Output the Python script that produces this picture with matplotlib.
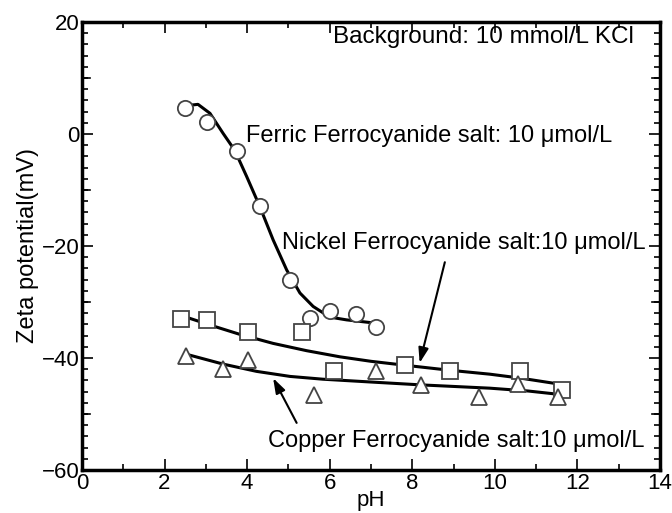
import matplotlib.pyplot as plt
from matplotlib.ticker import MultipleLocator

plt.rcParams['font.family'] = ['Liberation Sans', 'DejaVu Sans']

# measured points
ferric_ph = [2.49, 3.02, 3.75, 4.31, 5.04, 5.52, 6.02, 6.63, 7.12]
ferric_zeta = [4.6, 2.2, -3.0, -12.9, -26.1, -32.9, -31.6, -32.1, -34.4]

nickel_ph = [2.41, 3.02, 4.01, 5.32, 6.10, 7.82, 8.91, 10.62, 11.64]
nickel_zeta = [-33.0, -33.3, -35.4, -35.4, -42.3, -41.3, -42.4, -42.3, -45.8]

copper_ph = [2.52, 3.42, 4.01, 5.62, 7.12, 8.22, 9.62, 10.57, 11.53]
copper_zeta = [-39.6, -42.0, -40.4, -46.6, -42.3, -44.8, -46.9, -44.6, -47.0]

# fitted curves
ferric_fit_ph = [2.69, 2.81, 3.10, 3.42, 3.70, 3.99, 4.31, 4.63, 4.96, 5.28, 5.60, 6.00, 6.41, 7.01]
ferric_fit_zeta = [5.2, 5.3, 3.7, 0.1, -2.9, -7.6, -13.0, -18.9, -24.3, -28.4, -30.8, -32.7, -33.2, -33.7]

nickel_fit_ph = [2.60, 3.18, 3.83, 4.63, 5.44, 6.25, 7.00, 7.82, 8.91, 9.88, 10.62, 11.50, 11.75]
nickel_fit_zeta = [-32.9, -34.3, -35.8, -37.4, -38.7, -39.8, -40.6, -41.3, -42.2, -42.9, -43.6, -44.6, -45.0]

copper_fit_ph = [2.61, 3.42, 4.23, 5.04, 5.84, 7.00, 8.18, 9.88, 10.80, 11.55]
copper_fit_zeta = [-39.5, -41.1, -42.4, -43.3, -43.8, -44.3, -44.8, -45.4, -45.9, -46.5]

fig = plt.figure(figsize=(6.72, 5.13), dpi=100)
ax = fig.add_axes([0.122, 0.084, 0.860, 0.873])

ax.plot(ferric_fit_ph, ferric_fit_zeta, color='k', lw=2.2, zorder=2)
ax.plot(nickel_fit_ph, nickel_fit_zeta, color='k', lw=2.2, zorder=2)
ax.plot(copper_fit_ph, copper_fit_zeta, color='k', lw=2.2, zorder=2)

mk = dict(ls='none', mfc='white', mec='#444444', mew=1.3, zorder=3)
ax.plot(ferric_ph, ferric_zeta, marker='o', ms=11, **mk)
ax.plot(nickel_ph, nickel_zeta, marker='s', ms=11, **mk)
ax.plot(copper_ph, copper_zeta, marker='^', ms=11, **mk)

ax.set_xlim(0, 14)
ax.set_ylim(-60, 20)
ax.xaxis.set_major_locator(MultipleLocator(2))
ax.xaxis.set_minor_locator(MultipleLocator(1))
ax.yaxis.set_major_locator(MultipleLocator(20))
ax.yaxis.set_minor_locator(MultipleLocator(2))
ax.tick_params(which='both', direction='in', top=True, right=True, labelsize=16, width=1.2)
ax.tick_params(which='major', length=8, pad=2)
ax.tick_params(which='minor', length=4)
for s in ax.spines.values():
    s.set_linewidth(2.5)
# medium ticks at the unlabeled tens
for v in [10, -10, -30, -50]:
    ax.plot([0, 0.2], [v, v], color='k', lw=1.2, clip_on=False)
    ax.plot([13.8, 14], [v, v], color='k', lw=1.2, clip_on=False)

ax.set_xlabel('pH', fontsize=16, labelpad=-3)
ax.set_ylabel('Zeta potential(mV)', fontsize=17, labelpad=2)

ax.text(6.08, 17.3, 'Background: 10 mmol/L KCl', fontsize=17.5, va='center')
ax.text(3.97, -0.4, 'Ferric Ferrocyanide salt: 10 \u03bcmol/L', fontsize=17, va='center')
ax.text(4.84, -19.5, 'Nickel Ferrocyanide salt:10 \u03bcmol/L', fontsize=17, va='center')
ax.text(4.5, -54.8, 'Copper Ferrocyanide salt:10 \u03bcmol/L', fontsize=17, va='center')

arr = dict(arrowstyle='-|>,head_length=0.9,head_width=0.3', lw=1.5, color='k', shrinkA=0, shrinkB=0)
ax.annotate('', xy=(8.18, -40.9), xytext=(8.79, -22.9), arrowprops=arr)
ax.annotate('', xy=(4.63, -43.6), xytext=(5.2, -51.6), arrowprops=arr)

plt.savefig('out.png', dpi=100)
